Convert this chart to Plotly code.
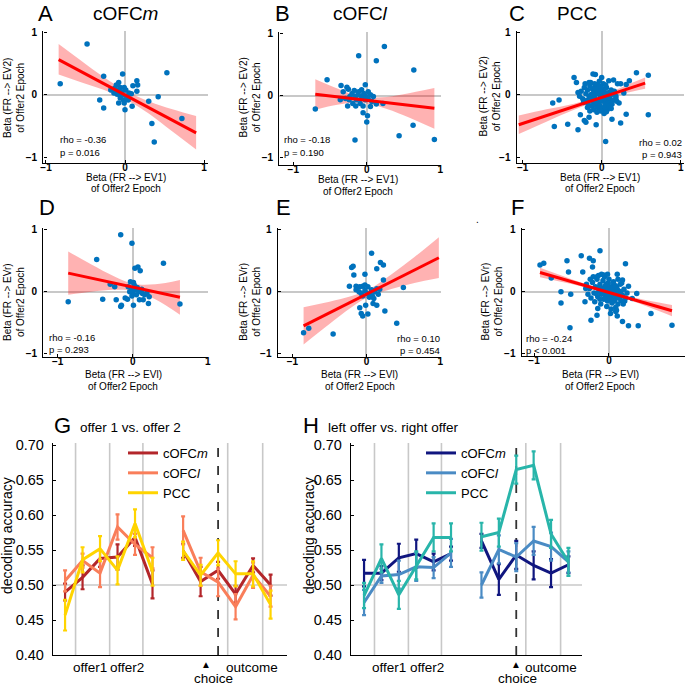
import plotly.graph_objects as go

W = H = 685
FONT = "Liberation Sans, Arial, sans-serif"
NARROW = "Liberation Sans Narrow, Liberation Sans, Arial, sans-serif"

# ---------------- scatter panels (A-F) ----------------
# each point: (beta x, beta y)
a_pts = [(-0.48, 0.82), (-0.82, 0.18), (-0.27, 0.30), (-0.32, -0.08), (-0.27, -0.21), (-0.03, 0.34),
         (0.53, 0.36), (0.15, 0.23), (0.16, 0.16), (0.10, 0.15), (0.15, 0.06), (0.42, -0.03),
         (0.30, -0.10), (0.09, -0.18), (0.00, -0.24), (0.34, -0.46), (0.72, -0.38), (0.37, -0.76),
         (-0.08, 0.20), (-0.11, 0.16), (-0.13, 0.11), (-0.06, 0.12), (-0.01, 0.12), (0.01, 0.08),
         (-0.14, 0.03), (-0.10, 0.01), (-0.04, 0.00), (0.02, -0.02), (0.05, 0.03), (-0.06, -0.05),
         (-0.02, -0.08), (-0.01, -0.13), (-0.08, -0.13), (0.04, -0.08), (0.08, 0.02), (-0.18, 0.08),
         (-0.11, 0.08), (-0.04, 0.05), (-0.07, 0.05)]
b_pts = [(0.24, 0.80), (-0.11, 0.65), (0.13, 0.57), (0.64, 0.42), (-0.54, 0.26), (-0.70, -0.21),
         (-0.35, 0.17), (-0.27, 0.14), (-0.16, -0.01), (-0.02, 0.18), (0.63, -0.47), (0.44, -0.64),
         (0.92, -0.70), (-0.16, -0.71), (0.00, -0.42), (0.01, -0.32), (-0.05, -0.27), (0.13, -0.13),
         (0.22, -0.12), (0.09, -0.01), (-0.32, 0.07), (-0.25, 0.11), (-0.20, 0.04), (-0.17, 0.09),
         (-0.11, 0.07), (-0.07, 0.10), (0.02, 0.07), (0.05, 0.02), (-0.29, -0.04), (-0.24, -0.06),
         (-0.19, -0.12), (-0.14, -0.06), (-0.09, -0.12), (-0.05, -0.16), (-0.02, -0.06), (0.02, -0.05),
         (0.07, -0.09), (-0.23, -0.01), (-0.36, -0.06), (-0.07, -0.01), (-0.01, -0.01), (-0.26, -0.16),
         (-0.15, -0.16), (0.05, -0.17), (-0.12, 0.02), (-0.04, 0.04)]
c_pts = [(-0.35, 0.28), (-0.11, 0.34), (-0.08, 0.33), (0.00, 0.28), (0.09, 0.23), (0.15, 0.24),
         (0.20, 0.18), (0.24, 0.18), (0.44, 0.36), (0.59, 0.32), (-0.32, 0.20), (-0.16, 0.20),
         (-0.05, 0.17), (-0.30, 0.04), (-0.62, -0.13), (-0.54, -0.08), (-0.27, -0.32), (-0.16, -0.36),
         (-0.20, -0.44), (-0.43, -0.47), (-0.60, -0.51), (-0.30, -0.56), (-0.22, -0.41), (-0.07, -0.48),
         (0.05, -0.75), (0.13, -0.39), (0.24, -0.45), (0.31, -0.31), (0.59, -0.32), (0.22, -0.13),
         (0.18, -0.06), (0.28, 0.03), (0.31, 0.17), (0.35, 0.23),
         (-0.22, 0.12), (-0.18, 0.08), (-0.15, 0.15), (-0.12, 0.10), (-0.10, 0.05), (-0.08, 0.12),
         (-0.05, 0.08), (-0.03, 0.14), (0.00, 0.10), (0.03, 0.06), (0.06, 0.12), (0.09, 0.04),
         (0.12, 0.08), (-0.20, 0.02), (-0.16, -0.02), (-0.13, 0.01), (-0.09, -0.03), (-0.06, 0.02),
         (-0.02, -0.01), (0.01, 0.02), (0.04, -0.03), (0.07, 0.00), (0.10, -0.04), (0.14, 0.01),
         (-0.24, -0.06), (-0.19, -0.09), (-0.14, -0.07), (-0.11, -0.11), (-0.07, -0.08), (-0.04, -0.12),
         (-0.01, -0.07), (0.02, -0.10), (0.05, -0.14), (0.08, -0.09), (0.11, -0.12), (0.15, -0.08),
         (-0.17, -0.15), (-0.12, -0.18), (-0.08, -0.16), (-0.05, -0.20), (-0.02, -0.17), (0.01, -0.22),
         (0.04, -0.19), (0.07, -0.24), (0.10, -0.18), (-0.10, -0.24), (-0.06, -0.28), (-0.01, -0.26),
         (0.03, -0.30), (0.06, -0.27), (-0.14, 0.20), (-0.21, 0.18), (0.02, 0.18), (-0.26, 0.06),
         (-0.28, -0.02), (0.13, -0.15), (0.16, 0.06), (0.18, -0.02), (-0.09, 0.18), (-0.03, 0.22),
         (-0.15, -0.26), (0.00, -0.04), (-0.04, 0.04), (0.05, 0.03), (-0.11, 0.00), (0.08, -0.05),
         (-0.07, -0.12), (0.03, -0.06), (-0.02, 0.06), (0.12, -0.22), (-0.18, -0.20), (-0.23, -0.12),
         (0.19, -0.10), (-0.01, 0.13), (0.05, 0.16)]
d_pts = [(-0.16, 0.92), (-0.01, 0.78), (-0.48, 0.52), (0.41, 0.46), (0.03, 0.38), (0.07, 0.40),
         (0.10, 0.34), (-0.30, 0.12), (-0.24, 0.08), (-0.86, -0.16), (-0.40, -0.12), (-0.22, -0.13),
         (-0.15, -0.22), (-0.16, -0.24), (-0.10, -0.10), (-0.07, -0.12), (0.01, -0.22), (0.21, -0.19),
         (0.63, -0.20), (0.14, -0.13), (0.09, -0.13), (0.22, -0.08), (0.01, 0.15), (-0.03, 0.16),
         (-0.06, 0.08), (-0.01, 0.05), (0.03, 0.03), (0.06, 0.07), (0.10, 0.00), (0.13, -0.03),
         (0.16, -0.05), (0.00, -0.03), (0.05, -0.05), (-0.04, 0.00), (0.02, 0.11), (0.08, 0.02),
         (0.12, 0.04), (0.19, -0.02), (-0.01, -0.07)]
e_pts = [(0.07, 0.62), (-0.18, 0.41), (-0.20, 0.39), (-0.17, 0.27), (-0.02, 0.28), (0.19, 0.47),
         (0.23, 0.43), (0.14, 0.37), (-0.23, 0.09), (0.23, 0.19), (0.50, 0.07), (-0.85, -0.66),
         (-0.78, -0.59), (-0.45, -0.68), (-0.09, -0.26), (-0.07, -0.35), (-0.05, -0.39), (0.02, -0.36),
         (-0.01, -0.22), (0.09, -0.19), (0.14, -0.22), (0.25, -0.31), (0.41, -0.51),
         (-0.14, 0.09), (-0.09, 0.08), (-0.05, 0.09), (-0.02, 0.11), (0.02, 0.08), (-0.14, 0.03),
         (-0.10, 0.00), (-0.07, -0.03), (-0.02, 0.02), (0.01, -0.03), (0.05, -0.05), (0.08, -0.07),
         (0.11, 0.00), (0.16, -0.04), (0.18, 0.04), (0.14, 0.05), (0.07, 0.03), (-0.05, -0.07),
         (0.04, -0.09), (0.10, -0.11)]
f_pts = [(-0.92, 0.43), (-0.87, 0.46), (-0.77, 0.22), (-0.56, 0.50), (-0.37, 0.58), (-0.26, 0.54),
         (-0.12, 0.66), (-0.22, 0.40), (-0.21, 0.50), (-0.54, 0.32), (-0.35, 0.32), (-0.64, 0.00),
         (-0.64, -0.18), (-0.51, -0.04), (-0.31, 0.05), (-0.16, 0.24), (-0.07, 0.27), (0.11, 0.28),
         (0.22, 0.45), (0.18, 0.19), (0.26, 0.09), (0.37, -0.03), (0.31, -0.11), (0.56, -0.35),
         (0.84, -0.54), (0.39, -0.55), (0.26, -0.55), (0.18, -0.48), (0.11, -0.39), (0.02, -0.35),
         (-0.15, -0.27), (-0.16, -0.38), (-0.24, -0.46), (-0.52, -0.58), (-0.32, -0.16), (0.09, -0.32),
         (-0.30, 0.12), (-0.26, 0.05), (-0.22, 0.15), (-0.20, -0.02), (-0.18, 0.08), (-0.16, 0.20),
         (-0.15, -0.08), (-0.13, 0.02), (-0.12, 0.12), (-0.10, -0.04), (-0.09, 0.06), (-0.08, 0.18),
         (-0.07, -0.12), (-0.06, 0.00), (-0.05, 0.09), (-0.04, -0.06), (-0.03, 0.04), (-0.02, -0.15),
         (-0.01, 0.14), (0.00, -0.02), (0.01, 0.07), (0.02, -0.09), (0.03, 0.02), (0.04, -0.18),
         (0.05, 0.10), (0.06, -0.05), (0.07, 0.03), (0.08, -0.12), (0.09, -0.01), (0.10, 0.08),
         (0.11, -0.08), (0.12, -0.20), (0.13, 0.01), (0.14, -0.04), (0.15, 0.12), (0.16, -0.14),
         (0.18, -0.06), (0.20, 0.04), (0.22, -0.10), (0.24, -0.02), (-0.24, -0.10), (-0.19, -0.16),
         (-0.14, 0.26), (-0.11, -0.20), (-0.06, 0.24), (-0.03, -0.24), (0.00, 0.20), (0.03, -0.28),
         (0.06, 0.16), (0.09, -0.25), (0.12, 0.20), (0.17, 0.14), (0.19, -0.20), (-0.28, -0.04),
         (-0.21, 0.24), (-0.12, -0.12), (-0.05, -0.10), (0.02, 0.00), (0.07, -0.15), (0.10, -0.30),
         (-0.08, 0.02), (-0.01, -0.05), (0.05, -0.02), (0.11, 0.04), (-0.15, 0.06), (-0.04, 0.12),
         (0.04, 0.06), (0.13, -0.10), (-0.10, 0.28), (0.01, -0.12), (0.08, 0.10), (-0.17, -0.03),
         (0.16, 0.00), (-0.02, 0.28), (0.21, -0.15), (-0.25, 0.20)]

# regression line ends and 95% band
a_fit_x, a_fit_y = [-0.84, 0.90], [0.571, -0.612]
a_band_x = [-0.84, -0.5, -0.2, 0.05, 0.3, 0.6, 0.9]
a_band_hi = [0.82, 0.50, 0.23, 0.04, -0.10, -0.23, -0.34]
a_band_lo = [0.33, 0.18, 0.05, -0.10, -0.30, -0.59, -0.88]

b_fit_x, b_fit_y = [-0.70, 0.92], [0.028, -0.199]
b_band_x = [-0.70, -0.4, -0.1, 0.2, 0.5, 0.92]
b_band_hi = [0.27, 0.12, -0.01, -0.02, 0.03, 0.13]
b_band_lo = [-0.22, -0.14, -0.11, -0.18, -0.31, -0.53]

c_fit_x, c_fit_y = [-1.05, 0.55], [-0.48, 0.19]
c_band_x = [-1.05, -0.7, -0.35, 0.0, 0.3, 0.55]
c_band_hi = [-0.33, -0.23, -0.14, -0.01, 0.15, 0.28]
c_band_lo = [-0.63, -0.43, -0.24, -0.07, 0.03, 0.10]

d_fit_x, d_fit_y = [-0.86, 0.63], [0.30, -0.088]
d_band_x = [-0.86, -0.55, -0.25, 0.0, 0.3, 0.63]
d_band_hi = [0.65, 0.44, 0.25, 0.13, 0.12, 0.19]
d_band_lo = [-0.05, 0.0, 0.03, 0.02, -0.12, -0.37]

e_fit_x, e_fit_y = [-0.85, 0.98], [-0.55, 0.548]
e_band_x = [-0.85, -0.5, -0.2, 0.05, 0.35, 0.65, 0.98]
e_band_hi = [-0.25, -0.16, -0.07, 0.05, 0.29, 0.56, 0.88]
e_band_lo = [-0.85, -0.52, -0.25, -0.07, 0.05, 0.14, 0.22]

f_fit_x, f_fit_y = [-0.92, 0.84], [0.31, -0.306]
f_band_x = [-0.92, -0.5, -0.1, 0.3, 0.84]
f_band_hi = [0.385, 0.203, 0.045, -0.087, -0.216]
f_band_lo = [0.235, 0.123, 0.001, -0.147, -0.396]

stats = {"A": ("rho = -0.36", "p = 0.016"), "B": ("rho = -0.18", "p = 0.190"),
         "C": ("rho = 0.02", "p = 0.943"), "D": ("rho = -0.16", "p = 0.293"),
         "E": ("rho = 0.10", "p = 0.454"), "F": ("rho = -0.24", "p < 0.001")}

# ---------------- decoding panels (G, H) ----------------
t_offer = [1, 2, 3, 4, 5, 6]
t_choice = [7.75, 8.75, 9.75, 10.75, 11.75, 12.75]
event_t = [1.6, 3.55, 5.45, 10.3, 12.3]
choice_t = 9.75

g_m = [0.490, 0.511, 0.538, 0.540, 0.568, 0.501, 0.549, 0.505, 0.521, 0.487, 0.528, 0.500]
g_m_err = [0.012, 0.017, 0.012, 0.018, 0.012, 0.020, 0.010, 0.021, 0.012, 0.012, 0.010, 0.015]
g_l = [0.506, 0.535, 0.517, 0.583, 0.558, 0.539, 0.578, 0.519, 0.504, 0.469, 0.514, 0.484]
g_l_err = [0.015, 0.010, 0.020, 0.018, 0.015, 0.015, 0.020, 0.020, 0.020, 0.018, 0.018, 0.015]
g_p = [0.457, 0.536, 0.552, 0.521, 0.588, 0.519, 0.549, 0.514, 0.546, 0.516, 0.516, 0.472]
g_p_err = [0.022, 0.018, 0.018, 0.020, 0.020, 0.020, 0.013, 0.015, 0.018, 0.018, 0.018, 0.020]

h_m = [0.517, 0.517, 0.539, 0.545, 0.533, 0.545, 0.563, 0.508, 0.543, 0.528, 0.517, 0.529]
h_m_err = [0.019, 0.010, 0.020, 0.020, 0.012, 0.010, 0.010, 0.022, 0.020, 0.020, 0.020, 0.012]
h_l = [0.475, 0.513, 0.515, 0.526, 0.525, 0.546, 0.500, 0.551, 0.540, 0.563, 0.555, 0.533]
h_l_err = [0.018, 0.010, 0.020, 0.020, 0.015, 0.020, 0.018, 0.020, 0.020, 0.020, 0.020, 0.015]
h_p = [0.485, 0.538, 0.486, 0.528, 0.568, 0.568, 0.569, 0.575, 0.665, 0.671, 0.573, 0.533]
h_p_err = [0.018, 0.020, 0.020, 0.020, 0.020, 0.020, 0.020, 0.020, 0.020, 0.020, 0.020, 0.020]

# ------------------------------------------------------------
def px_x(p):
    return p / W

def px_y(p):
    return 1 - p / H

fig = go.Figure()
annots = []
shapes = []

def ann(text, x, y, size, xanchor="center", yanchor="middle", angle=0, family=FONT, xref="paper"):
    annots.append(dict(text=text, x=x if xref != "paper" else px_x(x), y=px_y(y), xref=xref, yref="paper",
                       xanchor=xanchor, yanchor=yanchor, textangle=angle, showarrow=False,
                       font=dict(size=size, family=family, color="black")))

scatter_panels = [
    # key, pts, fit, band, x px domain, y px domain, x range, y range
    ("A", a_pts, (a_fit_x, a_fit_y), (a_band_x, a_band_hi, a_band_lo), (43.3, 207.5), (31.1, 163.2), (-1.034, 1.044), (-1.10, 1.03)),
    ("B", b_pts, (b_fit_x, b_fit_y), (b_band_x, b_band_hi, b_band_lo), (279.3, 440.7), (32.0, 165.0), (-1.19, 1.006), (-1.113, 1.032)),
    ("C", c_pts, (c_fit_x, c_fit_y), (c_band_x, c_band_hi, c_band_lo), (516.7, 684.0), (31.1, 163.2), (-1.076, 1.042), (-1.10, 1.03)),
    ("D", d_pts, (d_fit_x, d_fit_y), (d_band_x, d_band_hi, d_band_lo), (43.3, 208.3), (228.3, 356.7), (-1.192, 1.008), (-1.048, 1.023)),
    ("E", e_pts, (e_fit_x, e_fit_y), (e_band_x, e_band_hi, e_band_lo), (277.7, 440.7), (228.3, 356.7), (-1.20, 1.005), (-1.048, 1.023)),
    ("F", f_pts, (f_fit_x, f_fit_y), (f_band_x, f_band_hi, f_band_lo), (521.7, 684.5), (228.3, 355.7), (-1.164, 1.007), (-1.032, 1.023)),
]

layout_axes = {}
for i, (key, pts, fit, band, dx, dy, xr, yr) in enumerate(scatter_panels, start=1):
    xa, ya = f"x{i}" if i > 1 else "x", f"y{i}" if i > 1 else "y"
    bx, bhi, blo = band
    fig.add_trace(go.Scatter(x=bx, y=blo, xaxis=xa, yaxis=ya, mode="lines", line=dict(width=0, shape="spline"),
                             showlegend=False, hoverinfo="skip"))
    fig.add_trace(go.Scatter(x=bx, y=bhi, xaxis=xa, yaxis=ya, mode="lines", line=dict(width=0, shape="spline"),
                             fill="tonexty", fillcolor="rgba(255,0,0,0.3)", showlegend=False, hoverinfo="skip"))
    fig.add_trace(go.Scatter(x=[p[0] for p in pts], y=[p[1] for p in pts], xaxis=xa, yaxis=ya, mode="markers",
                             marker=dict(size=5.5, color="#0072BD"), showlegend=False))
    fig.add_trace(go.Scatter(x=fit[0], y=fit[1], xaxis=xa, yaxis=ya, mode="lines",
                             line=dict(color="#FF0000", width=3), showlegend=False))
    common = dict(showline=True, linecolor="black", linewidth=1.4, ticks="inside", ticklen=3, tickwidth=1.2,
                  tickcolor="black", showgrid=False, zeroline=True, zerolinecolor="#C8C8C8", zerolinewidth=1.6,
                  automargin=False, tickvals=[-1, 0, 1],
                  tickfont=dict(size=10, family=FONT, color="black", weight="bold"))
    layout_axes["xaxis" if i == 1 else f"xaxis{i}"] = dict(domain=[px_x(dx[0]), px_x(dx[1])], range=list(xr),
                                                            anchor=ya, ticklabelstandoff=-5, **common)
    layout_axes["yaxis" if i == 1 else f"yaxis{i}"] = dict(domain=[px_y(dy[1]), px_y(dy[0])], range=list(yr),
                                                            anchor=xa, ticklabelstandoff=3, **common)

# panel letters / titles / axis titles / stats text (pixel positions)
ann("A", 45, 13, 22); ann("cOFC<i>m</i>", 125, 13, 19)
ann("B", 282, 13, 22); ann("cOFC<i>l</i>", 360, 13, 19)
ann("C", 517, 13, 22); ann("PCC", 577, 13, 19)
ann("D", 47, 207, 22); ann("E", 283, 207, 22); ann("F", 517, 207, 22)
ann(".", 477, 219, 10)

ytitle_top = "Beta (FR --&gt; EV2)<br>of Offer2 Epoch"
ytitle_bot = "Beta (FR --&gt; EVr)<br>of Offer2 Epoch"
for cx, cy in [(14, 98), (249.5, 97), (489.5, 97)]:
    ann(ytitle_top, cx, cy, 10, angle=-90)
for cx in [13.3, 250, 491.7]:
    ann(ytitle_bot, cx, 301.7, 10, angle=-90)
for cx, cy in [(126, 177.5), (357.7, 179.5), (600, 177.5)]:
    ann("Beta (FR --&gt; EV1)", cx, cy, 10)
    ann("of Offer2 Epoch", cx, cy + 11.5, 10)
for cx in [123.3, 359.7, 600.3]:
    ann("Beta (FR --&gt; EVl)", cx, 374.5, 10)
    ann("of Offer2 Epoch", cx, 386, 10)

stat_pos = {"A": (58, 140, "left"), "B": (282, 140, "left"), "C": (684, 142, "right"),
            "D": (47, 337, "left"), "E": (442, 338, "right"), "F": (524, 338, "left")}
for key, (sx, sy, anc) in stat_pos.items():
    ann(stats[key][0], sx, sy, 9.5, xanchor=anc, family=NARROW)
    ann(stats[key][1], sx, sy + 12, 9.5, xanchor=anc, family=NARROW)

# ---------------- G and H ----------------
dec_panels = [
    ("G", [("cOFC<i>m</i>", g_m, g_m_err, "#B3262A"), ("cOFC<i>l</i>", g_l, g_l_err, "#F97E5A"),
           ("PCC", g_p, g_p_err, "#FFD400")], (53, 287), (0.31, 13.69), "legend", 123),
    ("H", [("cOFC<i>m</i>", h_m, h_m_err, "#10167F"), ("cOFC<i>l</i>", h_l, h_l_err, "#4A8BC4"),
           ("PCC", h_p, h_p_err, "#28B5AA")], (351, 582), (0.25, 13.53), "legend2", 421),
]
for j, (key, series, dx, xr, leg, legx) in enumerate(dec_panels, start=7):
    xa, ya = f"x{j}", f"y{j}"
    xs = t_offer + [None] + t_choice
    for name, vals, errs, col in series:
        fig.add_trace(go.Scatter(x=xs, y=vals[:6] + [None] + vals[6:], xaxis=xa, yaxis=ya, mode="lines",
                                 name=name, legend=leg, line=dict(color=col, width=3),
                                 error_y=dict(type="data", array=errs[:6] + [0] + errs[6:], color=col,
                                              thickness=2.2, width=2)))
    layout_axes[f"xaxis{j}"] = dict(domain=[px_x(dx[0]), px_x(dx[1])], range=list(xr), anchor=ya,
                                    showline=True, linecolor="black", linewidth=1.4, ticks="",
                                    showticklabels=False, showgrid=False, zeroline=False, automargin=False)
    layout_axes[f"yaxis{j}"] = dict(domain=[px_y(655), px_y(443)], range=[0.40, 0.703], anchor=xa,
                                    showline=True, linecolor="black", linewidth=1.4, ticks="inside",
                                    ticklen=3, tickcolor="black", tickvals=[0.40, 0.45, 0.50, 0.55, 0.60, 0.65, 0.70],
                                    tickformat=".2f", ticklabelstandoff=5, showgrid=False, zeroline=False,
                                    automargin=False, tickfont=dict(size=14.5, family=FONT, color="black"))
    for t in event_t:
        shapes.append(dict(type="line", xref=xa, yref=f"{ya} domain", x0=t, x1=t, y0=0, y1=1,
                           line=dict(color="#C8C8C8", width=1.6), layer="below"))
    shapes.append(dict(type="line", xref=f"{xa} domain", yref=ya, x0=0, x1=1, y0=0.5, y1=0.5,
                       line=dict(color="#C8C8C8", width=1.6), layer="below"))
    shapes.append(dict(type="line", xref=xa, yref=f"{ya} domain", x0=choice_t, x1=choice_t, y0=0, y1=1,
                       line=dict(color="#333333", width=1.8, dash="dash"), layer="below"))
    layout_axes[leg] = dict(x=px_x(legx), y=px_y(438), xanchor="left", yanchor="top", traceorder="normal",
                            bgcolor="rgba(0,0,0,0)", font=dict(size=13, family=FONT, color="black"),
                            tracegroupgap=0, itemwidth=30)

ann("G", 62, 425, 22); ann("offer 1 vs. offer 2", 78, 427, 13.5, xanchor="left")
ann("H", 311, 425, 22); ann("left offer vs. right offer", 326, 427, 13.5, xanchor="left")
ann("decoding accuracy", 7, 536, 14, angle=-90)
ann("decoding accuracy", 309, 536, 14, angle=-90)

for xa, o1, o2, tri, outc, ch in [("x7", 2.43, 4.54, 9.06, 11.69, 9.51), ("x8", 2.44, 4.62, 9.74, 11.75, 9.85)]:
    ann("offer1", o1, 667, 13.5, xref=xa)
    ann("offer2", o2, 667, 13.5, xref=xa)
    ann("▲", tri, 664.5, 10, xref=xa)
    ann("outcome", outc, 667, 13.5, xref=xa)
    ann("choice", ch, 678.5, 13.5, xref=xa)

fig.update_layout(width=W, height=H, autosize=False, margin=dict(l=0, r=0, t=0, b=0, pad=0),
                  paper_bgcolor="white", plot_bgcolor="white", annotations=annots, shapes=shapes,
                  font=dict(family=FONT, color="black"), **layout_axes)

# page body margin would shift the fixed-size figure
fig.write_html("out.html", config={"displayModeBar": False},
               post_script="document.body.style.margin='0';document.body.style.padding='0';"
                           "document.documentElement.style.overflow='hidden';")
